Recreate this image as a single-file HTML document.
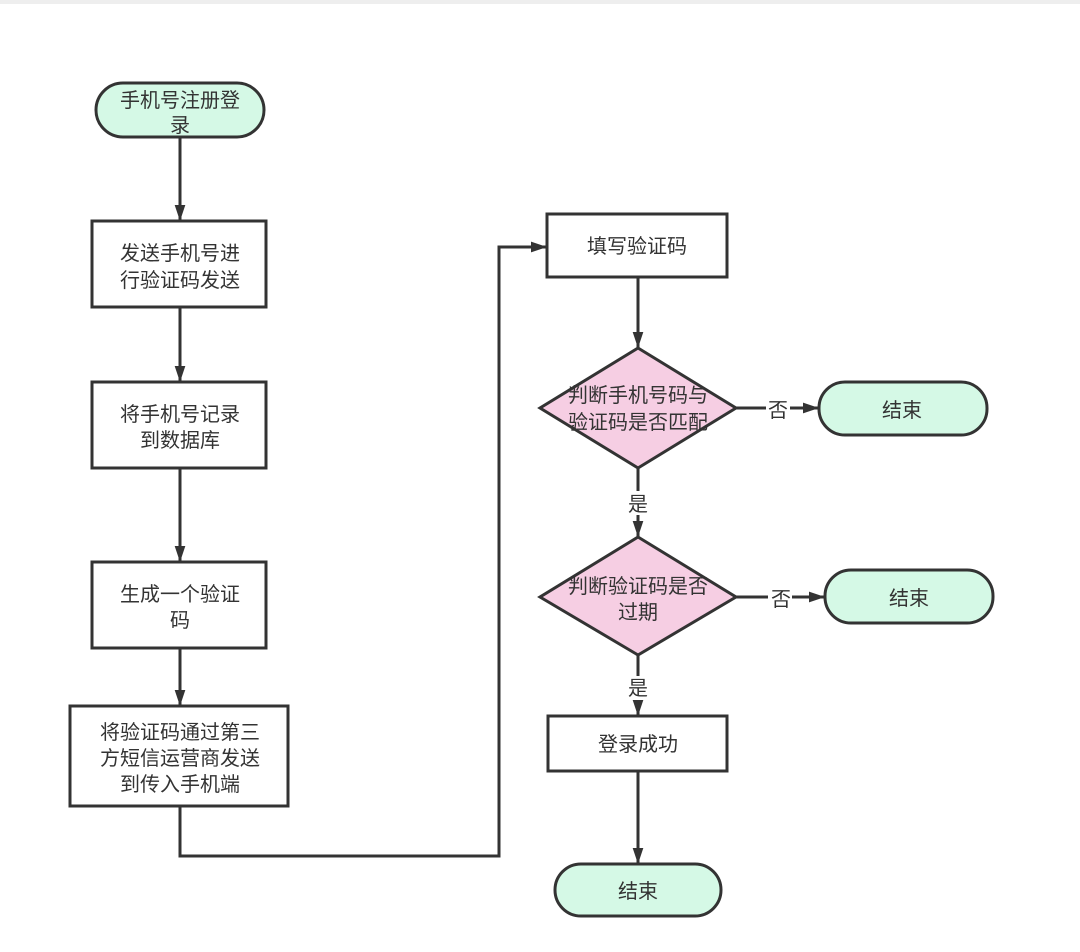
<!DOCTYPE html>
<html><head><meta charset="utf-8"><style>
html,body{margin:0;padding:0;background:#fff;}
svg text{font-family:"Liberation Sans","Noto Sans CJK SC",sans-serif;font-size:20px;fill:#333;text-anchor:middle;}
</style></head><body>
<svg width="1080" height="947" viewBox="0 0 1080 947" xmlns="http://www.w3.org/2000/svg">
<defs><marker id="a" markerWidth="10" markerHeight="10" refX="9" refY="5" orient="auto" markerUnits="userSpaceOnUse" viewBox="0 0 10 10"><path d="M0,0 L10,5 L0,10 z" fill="#333"/></marker>
<marker id="b" markerWidth="16" markerHeight="24" refX="24" refY="8" orient="auto" markerUnits="userSpaceOnUse" viewBox="0 0 24 16"><path d="M0,0 L24,8 L0,16 z" fill="#333"/></marker></defs>
<rect x="0" y="0" width="1080" height="4" fill="#eee"/>
<g stroke="#333" stroke-width="3" fill="none">
<line x1="180" y1="137" x2="180" y2="221" marker-end="url(#b)"/>
<line x1="180" y1="307" x2="180" y2="382" marker-end="url(#b)"/>
<line x1="180" y1="468" x2="180" y2="562" marker-end="url(#b)"/>
<line x1="180" y1="648" x2="180" y2="706" marker-end="url(#b)"/>
<polyline points="180,806 180,856 499,856 499,247 547,247" marker-end="url(#b)"/>
<line x1="638" y1="277" x2="638" y2="348" marker-end="url(#b)"/>
<line x1="736" y1="408" x2="819" y2="408" marker-end="url(#b)"/>
<line x1="638" y1="468" x2="638" y2="537" marker-end="url(#b)"/>
<line x1="736" y1="597" x2="825" y2="597" marker-end="url(#b)"/>
<line x1="638" y1="655" x2="638" y2="716" marker-end="url(#b)"/>
<line x1="638" y1="771" x2="638" y2="864" marker-end="url(#b)"/>
</g>
<g stroke="#333" stroke-width="3">
<rect x="96" y="83" width="168" height="54" rx="27" fill="#d5f9e6"/>
<rect x="92" y="221" width="174" height="86" fill="#fff"/>
<rect x="92" y="382" width="174" height="86" fill="#fff"/>
<rect x="92" y="562" width="174" height="86" fill="#fff"/>
<rect x="70" y="706" width="218" height="100" fill="#fff"/>
<rect x="547" y="214" width="180" height="63" fill="#fff"/>
<polygon points="638,348 736,408 638,468 540,408" fill="#f6cee3"/>
<rect x="819" y="382" width="168" height="53" rx="26" fill="#d5f9e6"/>
<polygon points="638,537 736,597 638,655 540,597" fill="#f6cee3"/>
<rect x="825" y="570" width="168" height="53" rx="26" fill="#d5f9e6"/>
<rect x="548" y="716" width="179" height="55" fill="#fff"/>
<rect x="555" y="864" width="166" height="52" rx="26" fill="#d5f9e6"/>
</g>
<rect x="766" y="397" width="24" height="24" fill="#fff"/>
<rect x="768" y="586" width="24" height="24" fill="#fff"/>
<rect x="626" y="491" width="24" height="24" fill="#fff"/>
<rect x="626" y="676" width="24" height="24" fill="#fff"/>
<text x="180" y="107">手机号注册登</text><text x="180" y="132">录</text>
<text x="180" y="260">发送手机号进</text><text x="180" y="287">行验证码发送</text>
<text x="180" y="421">将手机号记录</text><text x="180" y="447">到数据库</text>
<text x="180" y="601">生成一个验证</text><text x="180" y="627">码</text>
<text x="180" y="739">将验证码通过第三</text><text x="180" y="765">方短信运营商发送</text><text x="180" y="791">到传入手机端</text>
<text x="637" y="253">填写验证码</text>
<text x="638" y="402">判断手机号码与</text><text x="638" y="429">验证码是否匹配</text>
<text x="778" y="417">否</text>
<text x="902" y="417">结束</text>
<text x="638" y="511">是</text>
<text x="638" y="593">判断验证码是否</text><text x="638" y="619">过期</text>
<text x="781" y="606">否</text>
<text x="909" y="605">结束</text>
<text x="638" y="695">是</text>
<text x="638" y="751">登录成功</text>
<text x="638" y="898">结束</text>
</svg>
</body></html>
